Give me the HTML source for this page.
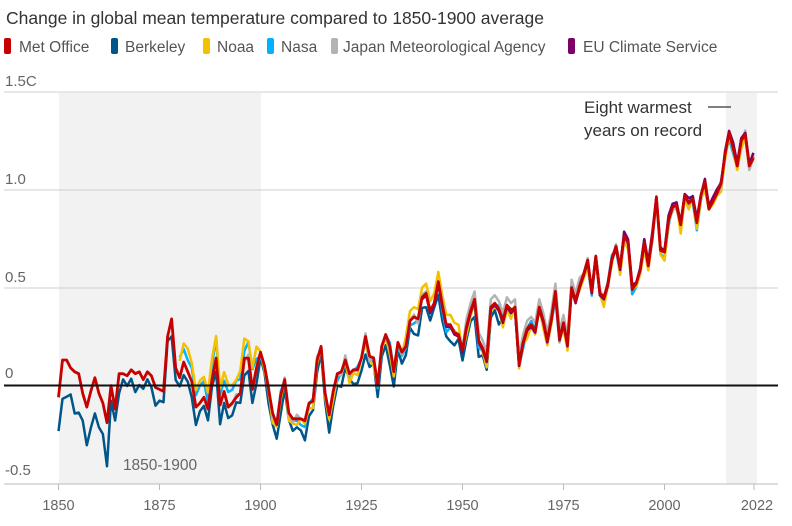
<!DOCTYPE html>
<html><head><meta charset="utf-8"><style>
body{margin:0;background:#fff;font-family:"Liberation Sans",sans-serif;}
svg text{font-family:"Liberation Sans",sans-serif;}
</style></head><body>
<svg id="c" width="792" height="521" xmlns="http://www.w3.org/2000/svg">
<rect x="59" y="93" width="202" height="391" fill="#f2f2f2"/>
<rect x="726" y="93" width="31" height="391" fill="#f2f2f2"/>
<g stroke="#cfcfcf" stroke-width="1">
<line x1="4" x2="778" y1="92" y2="92"/>
<line x1="4" x2="778" y1="190" y2="190"/>
<line x1="4" x2="778" y1="288" y2="288"/>
<line x1="4" x2="778" y1="484" y2="484" stroke="#bbb"/>
</g>
<g stroke="#bbb"><line x1="58.5" x2="58.5" y1="484" y2="490"/><line x1="159.5" x2="159.5" y1="484" y2="490"/><line x1="260.5" x2="260.5" y1="484" y2="490"/><line x1="361.5" x2="361.5" y1="484" y2="490"/><line x1="462.5" x2="462.5" y1="484" y2="490"/><line x1="563.5" x2="563.5" y1="484" y2="490"/><line x1="664.5" x2="664.5" y1="484" y2="490"/><line x1="754" x2="754" y1="484" y2="490"/></g>
<text x="6" y="24" font-size="17.5" fill="#333">Change in global mean temperature compared to 1850-1900 average</text>
<g font-size="15.5" fill="#555">
<rect x="4" y="38" width="7" height="16" rx="2" fill="#c70000"/><text x="19" y="52">Met Office</text>
<rect x="111" y="38" width="7" height="16" rx="2" fill="#005689"/><text x="125" y="52">Berkeley</text>
<rect x="203" y="38" width="7" height="16" rx="2" fill="#f3c100"/><text x="217" y="52">Noaa</text>
<rect x="267" y="38" width="7" height="16" rx="2" fill="#00b2ff"/><text x="281" y="52">Nasa</text>
<rect x="331" y="38" width="7" height="16" rx="2" fill="#b3b3b3"/><text x="343" y="52">Japan Meteorological Agency</text>
<rect x="568" y="38" width="7" height="16" rx="2" fill="#7d0068"/><text x="583" y="52">EU Climate Service</text>
</g>
<g font-size="15" fill="#666">
<text x="5" y="86">1.5C</text><text x="5" y="184">1.0</text><text x="5" y="282">0.5</text><text x="5" y="378">0</text><text x="5" y="475">-0.5</text>
</g>
<g font-size="14.5" fill="#666" text-anchor="middle">
<text x="58.5" y="510">1850</text><text x="159.5" y="510">1875</text><text x="260.5" y="510">1900</text><text x="361.5" y="510">1925</text><text x="462.5" y="510">1950</text><text x="563.5" y="510">1975</text><text x="664.5" y="510">2000</text><text x="757" y="510">2022</text>
</g>
<text x="160" y="470" font-size="15.5" fill="#666" text-anchor="middle">1850-1900</text>
<text x="584" y="113" font-size="17" fill="#333">Eight warmest</text>
<text x="584" y="136" font-size="17" fill="#333">years on record</text>
<line x1="708" x2="731" y1="107" y2="107" stroke="#333" stroke-width="1.3"/>
<g id="series"></g>
<line x1="4" x2="778" y1="385.5" y2="385.5" stroke="#111" stroke-width="2"/>
</svg>
<script>
var mo=[-0.42,-0.23,-0.23,-0.27,-0.29,-0.30,-0.40,-0.47,-0.39,-0.32,-0.40,-0.45,-0.55,-0.36,-0.48,-0.30,-0.30,-0.31,-0.28,-0.30,-0.29,-0.33,-0.29,-0.31,-0.37,-0.38,-0.39,-0.11,-0.02,-0.27,-0.32,-0.24,-0.29,-0.34,-0.47,-0.45,-0.42,-0.48,-0.33,-0.22,-0.46,-0.39,-0.47,-0.45,-0.42,-0.40,-0.22,-0.22,-0.38,-0.27,-0.19,-0.26,-0.38,-0.50,-0.56,-0.41,-0.33,-0.50,-0.53,-0.53,-0.53,-0.54,-0.45,-0.44,-0.23,-0.16,-0.40,-0.51,-0.39,-0.30,-0.29,-0.23,-0.30,-0.28,-0.28,-0.22,-0.11,-0.21,-0.22,-0.36,-0.16,-0.10,-0.16,-0.29,-0.14,-0.19,-0.16,-0.03,-0.01,-0.02,0.09,0.11,0.02,0.06,0.17,0.05,-0.05,-0.05,-0.09,-0.10,-0.18,-0.06,0.02,0.08,-0.13,-0.17,-0.23,0.04,0.06,0.03,-0.03,0.05,0.02,0.04,-0.25,-0.14,-0.07,-0.05,-0.08,0.04,-0.03,-0.13,-0.02,0.12,-0.12,-0.04,-0.15,0.14,0.07,0.15,0.21,0.28,0.12,0.30,0.11,0.09,0.16,0.29,0.35,0.24,0.40,0.37,0.13,0.16,0.23,0.37,0.25,0.40,0.60,0.33,0.32,0.48,0.55,0.56,0.46,0.61,0.57,0.59,0.47,0.61,0.68,0.54,0.58,0.62,0.67,0.82,0.93,0.85,0.76,0.89,0.92,0.76,0.80].map(v=>v+0.36);
function X(y){return 58.5+(y-1850)*4.04}
function Y(v){return 385.5-v*196}
function line(start,f,color,w){var p=[];for(var y=start;y<=2022;y++){p.push(X(y).toFixed(1)+","+Y(f(y,mo[y-1850])).toFixed(1))}
return '<polyline fill="none" stroke="'+color+'" stroke-width="'+w+'" stroke-linejoin="round" points="'+p.join(" ")+'"/>'}
function n(y,k){return Math.sin(y*k)*0.5+Math.sin(y*k*2.3+1)*0.5}
var s="";
s+=line(1850,function(y,v){if(y<1863)return v-0.18+0.05*n(y,1.7);if(y<1880)return v-0.06+0.05*n(y,1.3);if(y<1960)return v-0.06+0.04*n(y,0.9);return v+0.02*n(y,1.1)},"#005689",2.5);
s+=line(1880,function(y,v){if(y<1900)return v+0.07+0.04*n(y,2.1);return v+0.03*n(y,0.7)-0.01},"#00b2ff",2.5);
s+=line(1880,function(y,v){if(y<1900)return v+0.1+0.03*n(y,1.9);if(y>1935&&y<1950)return v+0.05;return v+0.03*n(y,1.3)-0.02},"#f3c100",2.5);
s+=line(1891,function(y,v){if(y>1950&&y<1980)return v+0.04;return v+0.025*n(y,1.6)},"#b3b3b3",2.5);
s+=line(1940,function(y,v){if(y<1990)return v-0.01;return v+0.015+0.015*n(y,1.2)},"#7d0068",2.5);
s+=line(1850,function(y,v){return v},"#c70000",2.8);
document.getElementById("series").innerHTML=s;
</script>
</body></html>
